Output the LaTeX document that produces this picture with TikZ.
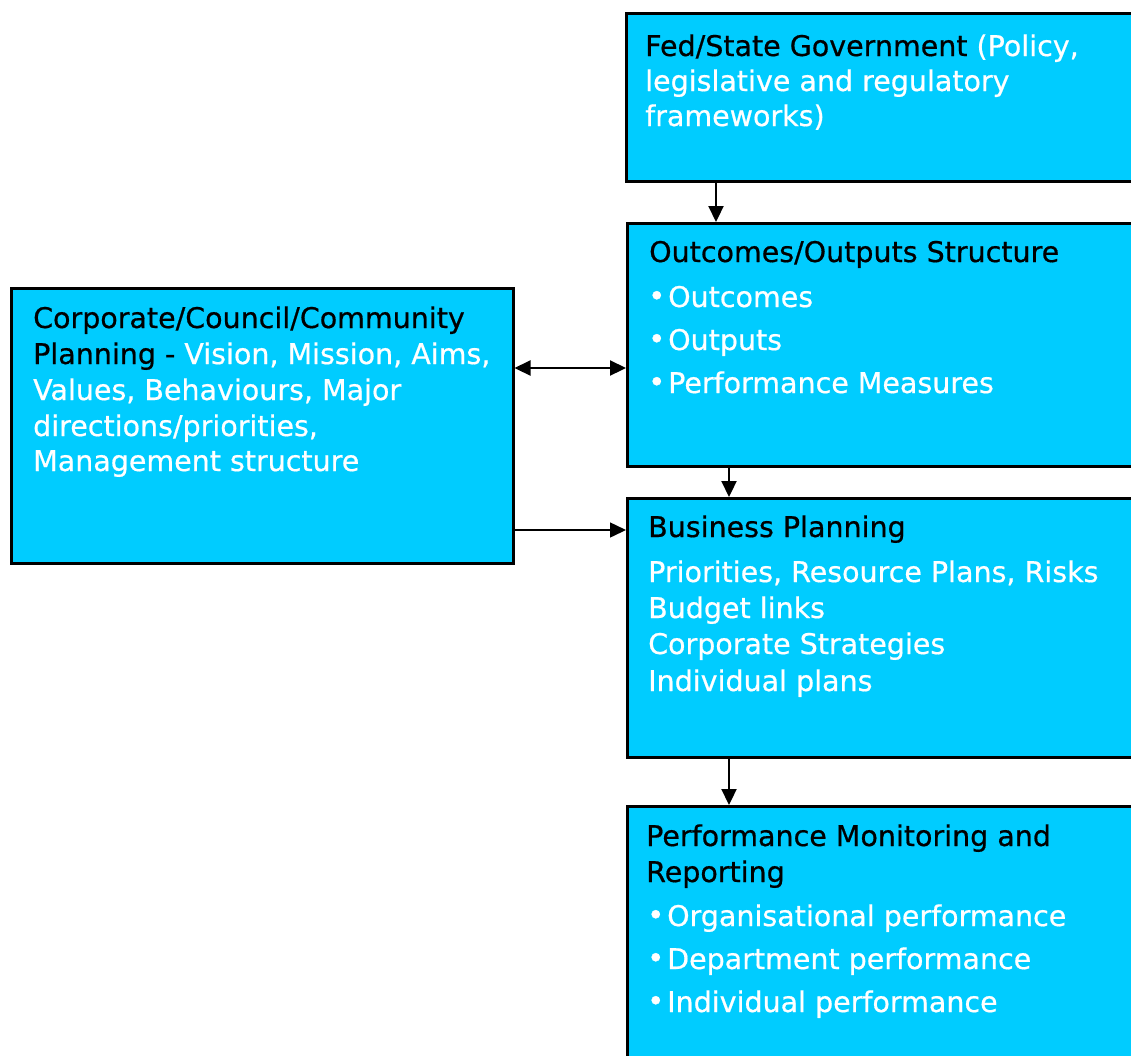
\documentclass[tikz,border=0pt]{standalone}
\usepackage{fontspec}
\setmainfont{DejaVu Sans}[FakeBold=0.6]
\usepackage{xcolor}
\definecolor{boxcyan}{RGB}{0,204,255}
\usepackage{tikz}
\usetikzlibrary{positioning, arrows.meta}
\tikzstyle{box} = [
    rectangle, anchor=north west,
    draw=black, fill=boxcyan,
    line width=2.5pt,
    inner sep=0pt,
]
\tikzstyle{boxtext} = [
    anchor=base west, inner sep=0pt,
    font=\fontsize{28.5}{36}\selectfont,
    text=white,
]
\tikzstyle{heading} = [
    boxtext,
    text=black,
]
\tikzstyle{dot} = [
    boxtext,
    font=\fontsize{29}{30}\selectfont,
]
\tikzstyle{arrow} = [-{Triangle[length=16pt,width=15pt]}, line width=2.2pt]
\tikzstyle{dblarrow} = [{Triangle[length=16pt,width=15pt]}-{Triangle[length=16pt,width=15pt]}, line width=2.2pt]

\begin{document}
\begin{tikzpicture}[x=1pt,y=-1pt]
    \useasboundingbox (0,0) rectangle (1131,1055);
    \clip (0,0) rectangle (1131,1055);

    % boxes
    \node (gov) at (625, 12) [box, minimum width=530pt, minimum height=168pt] {};
    \node (outc) at (626, 222) [box, minimum width=530pt, minimum height=243pt] {};
    \node (corp) at (10, 287) [box, minimum width=502pt, minimum height=275pt] {};
    \node (biz) at (626, 497) [box, minimum width=530pt, minimum height=259pt] {};
    \node (perf) at (626, 805) [box, minimum width=530pt, minimum height=300pt] {};

    % government text
    \node (gov1) at (645, 56) [boxtext] {\textcolor{black}{Fed/State Government} (Policy,};
    \node (gov2) at (645, 91) [boxtext] {legislative and regulatory};
    \node (gov3) at (645, 126) [boxtext] {frameworks)};

    % outcomes text
    \node (outctitle) at (649, 262) [heading] {Outcomes/Outputs Structure};
    \foreach \i/\y/\t in {1/307/Outcomes, 2/350/Outputs, 3/393/Performance Measures} {
        \node (outcdot\i) at (648, \y-1) [dot] {\textbullet};
        \node (outc\i) at (668, \y) [boxtext] {\t};
    }

    % corporate text
    \node (corp1) at (33, 328) [heading] {Corporate/Council/Community};
    \node (corp2) at (33, 364) [boxtext] {\textcolor{black}{Planning -} Vision, Mission, Aims,};
    \node (corp3) at (33, 400) [boxtext] {Values, Behaviours, Major};
    \node (corp4) at (33, 436) [boxtext] {directions/priorities,};
    \node (corp5) at (33, 471) [boxtext] {Management structure};

    % business text
    \node (biztitle) at (648, 537) [heading] {Business Planning};
    \foreach \i/\y/\t in {1/582/{Priorities, Resource Plans, Risks}, 2/618/Budget links, 3/654/Corporate Strategies, 4/691/Individual plans} {
        \node (biz\i) at (648, \y) [boxtext] {\t};
    }

    % performance text
    \node (perftitle1) at (646, 846) [heading] {Performance Monitoring and};
    \node (perftitle2) at (646, 882) [heading] {Reporting};
    \foreach \i/\y/\t in {1/926/Organisational performance, 2/969/Department performance, 3/1012/Individual performance} {
        \node (perfdot\i) at (647, \y-1) [dot] {\textbullet};
        \node (perf\i) at (667, \y) [boxtext] {\t};
    }

    % arrows
    \draw [arrow] (gov.south west -| 716,0) -- (outc.north west -| 716,0);
    \draw [arrow] (outc.south west -| 729,0) -- (biz.north west -| 729,0);
    \draw [arrow] (biz.south west -| 729,0) -- (perf.north west -| 729,0);
    \draw [dblarrow] (corp.east |- 0,368) -- (outc.west |- 0,368);
    \draw [arrow, line width=1.5pt] (corp.east |- 0,530) -- (biz.west |- 0,530);
\end{tikzpicture}
\end{document}
